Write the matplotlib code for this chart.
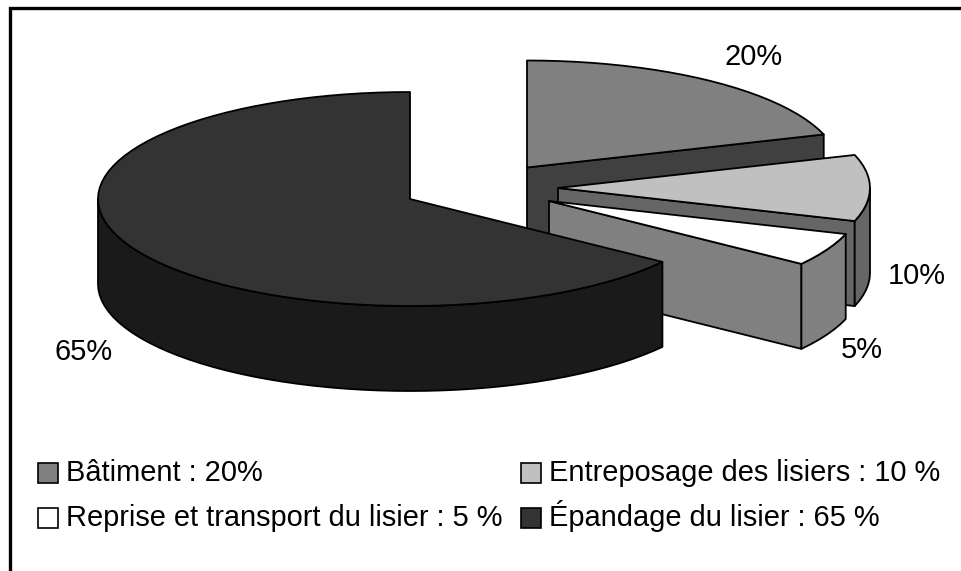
import numpy as np
import matplotlib
matplotlib.use("Agg")
import matplotlib.pyplot as plt
from matplotlib.patches import Polygon, Rectangle

# ---------- DATA ----------
labels = ["Bâtiment : 20%", "Entreposage des lisiers : 10 %",
          "Reprise et transport du lisier : 5 %", "Épandage du lisier : 65 %"]
values = [20, 10, 5, 65]
pct_labels = ["20%", "10%", "5%", "65%"]
# --------------------------

# apex of each exploded slice, in pixels
CENTERS = [(527, 167.5), (558, 188), (549, 201), (410, 199)]
RX, RY = 312, 107
DEPTH = 85
TOP_COLORS = ["#808080", "#c0c0c0", "#ffffff", "#333333"]
SIDE_COLORS = ["#404040", "#666666", "#808080", "#1a1a1a"]
PCT_POS = [(754, 56), (917, 275), (862, 349), (84, 351)]
LEGEND_POS = [(38, 463), (521, 463), (38, 508), (521, 508)]
LW = 1.3
FONT_SIZE = 20.9

plt.rcParams["font.family"] = "Liberation Sans"

fig = plt.figure(figsize=(9.61, 5.71), dpi=100)
ax = fig.add_axes([0, 0, 1, 1])
ax.set_xlim(0, 961)
ax.set_ylim(571, 0)
ax.axis("off")

# frame is cut off by the image on the right and the bottom
ax.plot([9.5, 9.5, 961], [571, 8, 8], color="black", lw=2.4, solid_joinstyle="miter")


def rim(cx, cy, a0, a1):
    """Points of the rim between two angles (degrees, clockwise from 12 o'clock)."""
    n = max(2, int(abs(a1 - a0) / 3) + 1)
    t = np.radians(np.linspace(a0, a1, n))
    return np.column_stack([cx + RX * np.sin(t), cy - RY * np.cos(t)])


def add_poly(pts, color, z):
    ax.add_patch(Polygon(pts, closed=True, facecolor=color, edgecolor="black",
                         lw=LW, joinstyle="round", zorder=z))


edges = np.concatenate([[0], np.cumsum(values)]) * 360 / sum(values)

for i in range(len(values)):
    a0, a1 = edges[i], edges[i + 1]
    cx, cy = CENTERS[i]
    z = 2 + i * 2

    # cut face on the clockwise side, only seen when it turns to the front
    if a1 < 180:
        end = rim(cx, cy, a1, a1)[0]
        add_poly([(cx, cy), end, (end[0], end[1] + DEPTH), (cx, cy + DEPTH)],
                 SIDE_COLORS[i], z)

    # outer wall, front half of the ellipse only
    w0, w1 = max(a0, 90), min(a1, 270)
    if w1 > w0:
        r = rim(cx, cy, w0, w1)
        add_poly(np.vstack([r, (r + [0, DEPTH])[::-1]]), SIDE_COLORS[i], z + 1)

    # top face
    add_poly(np.vstack([[(cx, cy)], rim(cx, cy, a0, a1)]), TOP_COLORS[i], z + 1)

for txt, (x, y) in zip(pct_labels, PCT_POS):
    ax.text(x, y + 1, txt, ha="center", va="center", fontsize=FONT_SIZE, color="black", zorder=20)

# legend, rows filled left to right
for i, (x, y) in enumerate(LEGEND_POS):
    ax.add_patch(Rectangle((x, y), 20, 20, facecolor=TOP_COLORS[i], edgecolor="black",
                           lw=1.2, zorder=20))
    ax.text(x + 28, y + 18, labels[i], ha="left", va="baseline", fontsize=FONT_SIZE,
            color="black", zorder=20)

fig.savefig("out.png", dpi=100)
plt.close(fig)
